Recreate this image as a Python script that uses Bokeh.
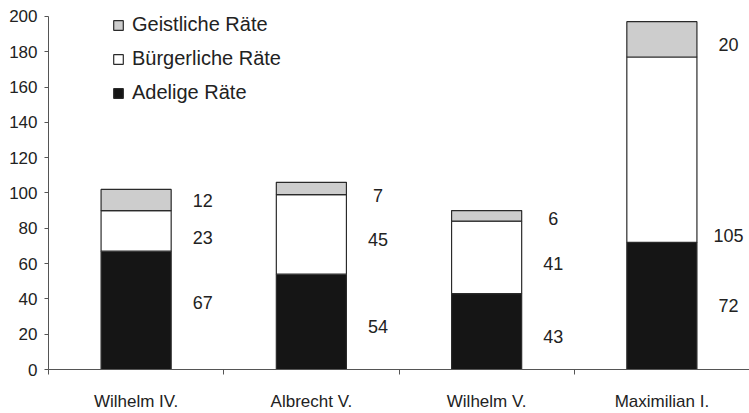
import numpy as np
from bokeh.plotting import figure
from bokeh.models import ColumnDataSource, Range1d, FixedTicker, Legend
from bokeh.core.properties import value
from bokeh.embed import file_html
from bokeh.resources import INLINE

categories = ["Wilhelm IV.", "Albrecht V.", "Wilhelm V.", "Maximilian I."]
adelige = [67, 54, 43, 72]
buergerliche = [23, 45, 41, 105]
geistliche = [12, 7, 6, 20]
series_names = ["Adelige Räte", "Bürgerliche Räte", "Geistliche Räte"]
y_ticks = [0, 20, 40, 60, 80, 100, 120, 140, 160, 180, 200]
# where the printed value labels sit (data units), per series
label_y_adelige = [38, 24.5, 18.5, 36]
label_y_buergerliche = [75, 73.5, 60, 76]
label_y_geistliche = [96, 98.7, 85.7, 184]

FONT = "Liberation Sans"
TXT = "#222222"
AX = "#555555"

n = len(categories)
centers = [i + 0.5 for i in range(n)]
bounds = [float(i) for i in range(n + 1)]

src = ColumnDataSource(dict(x=centers, a=adelige, b=buergerliche, g=geistliche))

# frame: y=0 at 373px, y=200 at 16px; frame top a little above 200 so the legend is not clipped
px_per_unit = 357 / 200
y_top = 200 + 8 / px_per_unit

p = figure(width=749, height=413, output_backend="svg", toolbar_location=None,
           x_range=Range1d(0, n), y_range=Range1d(0, y_top),
           min_border_left=48, min_border_right=0, min_border_top=8, min_border_bottom=40)
p.outline_line_color = None
p.xgrid.visible = False
p.ygrid.visible = False

renderers = p.vbar_stack(["a", "b", "g"], x="x", width=0.4, source=src,
                         fill_color=["#151515", "#ffffff", "#cdcdcd"],
                         line_color="#2a2a2a", line_width=1.2)

lx, ly, lt = [], [], []
for vals, ys in ((adelige, label_y_adelige), (buergerliche, label_y_buergerliche),
                 (geistliche, label_y_geistliche)):
    for i in range(n):
        lx.append(centers[i] + 0.38)
        ly.append(ys[i])
        lt.append(str(vals[i]))
p.text(x=lx, y=ly, text=lt, text_align="center", text_baseline="middle",
       text_font=value(FONT), text_font_size="18px", text_color=TXT)

xa = p.xaxis[0]
xa.ticker = FixedTicker(ticks=centers, minor_ticks=bounds)
xa.major_label_overrides = {c: cat for c, cat in zip(centers, categories)}
xa.major_tick_out = 0
xa.major_tick_in = 0
xa.minor_tick_out = 5
xa.minor_tick_in = 0
xa.minor_tick_line_color = AX
xa.axis_line_color = AX
xa.major_label_standoff = 17
xa.major_label_text_font = FONT
xa.major_label_text_font_size = "17px"
xa.major_label_text_color = TXT

ya = p.yaxis[0]
ya.ticker = FixedTicker(ticks=y_ticks)
ya.bounds = (y_ticks[0], y_ticks[-1])
ya.major_tick_out = 4
ya.major_tick_in = 0
ya.minor_tick_out = 0
ya.minor_tick_in = 0
ya.major_tick_line_color = AX
ya.axis_line_color = AX
ya.major_label_standoff = 7
ya.major_label_text_font = FONT
ya.major_label_text_font_size = "17px"
ya.major_label_text_color = TXT

legend = Legend(items=[(series_names[2], [renderers[2]]),
                       (series_names[1], [renderers[1]]),
                       (series_names[0], [renderers[0]])],
                location=(64, 265))
legend.background_fill_alpha = 0
legend.border_line_alpha = 0
legend.padding = 0
legend.margin = 0
legend.spacing = 11
legend.glyph_height = 12
legend.glyph_width = 12
legend.label_height = 22
legend.label_standoff = 8
legend.label_text_font = FONT
legend.label_text_font_size = "20px"
legend.label_text_color = TXT
p.add_layout(legend, "center")

open("out.html", "w").write(file_html(p, INLINE))
